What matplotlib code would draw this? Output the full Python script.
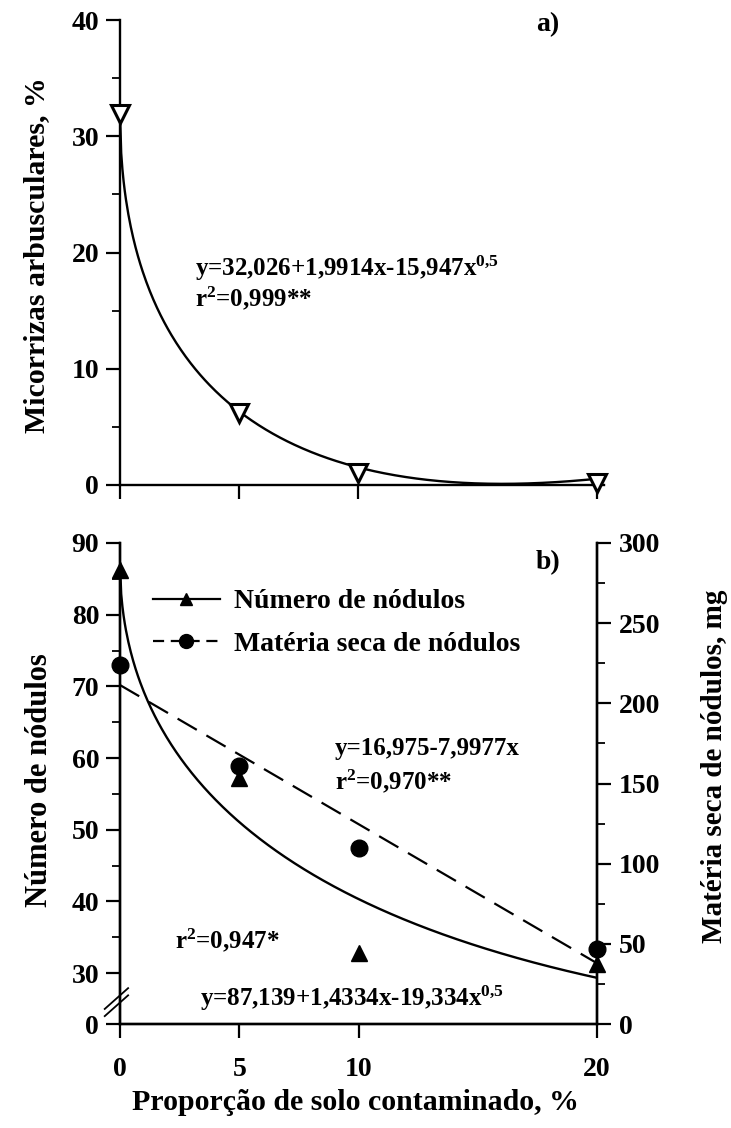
import numpy as np
import matplotlib
matplotlib.use("Agg")
import matplotlib.pyplot as plt
from matplotlib.lines import Line2D
import matplotlib.transforms as mtransforms

plt.rcParams['font.family'] = ['Liberation Serif', 'DejaVu Serif']
plt.rcParams['font.weight'] = 'bold'
plt.rcParams['mathtext.fontset'] = 'custom'
plt.rcParams['mathtext.rm'] = 'Liberation Serif:bold'
plt.rcParams['mathtext.it'] = 'Liberation Serif:bold'
plt.rcParams['mathtext.bf'] = 'Liberation Serif:bold'
plt.rcParams['mathtext.default'] = 'rm'

# proporcao de solo contaminado (%)
doses = [0, 5, 10, 20]

# a) micorrizas arbusculares (%)
micorrizas = [31.9, 6.2, 1.0, 0.2]
coef_mic = [32.026, 1.9914, -15.947]     # y = a + b*x + c*x^0.5

# b) numero de nodulos (eixo esquerdo) e materia seca (eixo direito, mg)
num_nodulos = [86.2, 57.2, 32.8, 31.3]
coef_num = [87.139, 1.4334, -19.334]
mat_seca = [224, 161, 110, 47]

W, H = 731, 1128
fig = plt.figure(figsize=(W / 100, H / 100), dpi=100)


def px_axes(l, t, r, b):
    return fig.add_axes([l / W, 1 - b / H, (r - l) / W, (b - t) / H])


def raiz_fit(c, x):
    return c[0] + c[1] * x + c[2] * np.sqrt(x)


def ftext(x, y, s, **kw):
    # posicao em pixels da figura
    return fig.text(x / W, 1 - y / H, s, **kw)


xs = np.linspace(0, 20, 400)
tick_kw = dict(direction='out', width=1.6, labelsize=20, colors='black')
eq_fs = 18
dash = (0, (10, 5))

# ---------------- a) ----------------
ax1 = px_axes(120, 20, 604, 485)
ax1.set_xlim(0, 20.3)
ax1.set_ylim(0, 40)
ax1.plot(xs, raiz_fit(coef_mic, xs), color='black', lw=1.7, zorder=2)
ax1.plot(doses, micorrizas, ls='none', marker='v', ms=13, mfc='white',
         mec='black', mew=2.2, zorder=3, clip_on=False)
for s in ['top', 'right']:
    ax1.spines[s].set_visible(False)
for s in ['left', 'bottom']:
    ax1.spines[s].set_linewidth(1.7)
ax1.set_xticks(doses)
ax1.set_xticklabels([])
ax1.set_yticks([0, 10, 20, 30, 40])
ax1.set_yticks([5, 15, 25, 35], minor=True)
ax1.tick_params(axis='both', which='major', length=10, pad=5, **tick_kw)
ax1.tick_params(axis='y', which='minor', length=6, width=1.3, direction='out')
ftext(548, 25, 'a)', fontsize=20, ha='center', va='center')
ftext(195, 268, 'y=32,026+1,9914x-15,947x$^{0{,}5}$', fontsize=eq_fs,
      ha='left', va='center')
ftext(195, 298, 'r$^{2}$=0,999**', fontsize=eq_fs, ha='left', va='center')

# ---------------- b) ----------------
y0_fake = 22.9   # posicao do "0" com quebra de eixo
ax2 = px_axes(120, 543, 597, 1024)
ax2.set_xlim(0, 20)
ax2.set_ylim(y0_fake, 90)
ax3 = ax2.twinx()
ax3.set_ylim(0, 300)

ax2.plot(xs, raiz_fit(coef_num, xs), color='black', lw=1.7, zorder=2)
ax2.plot(doses, num_nodulos, ls='none', marker='^', ms=11, color='black',
         zorder=3, clip_on=False)

incl, inter = np.polyfit(doses, mat_seca, 1)
ax3.plot(xs, inter + incl * xs, color='black', lw=1.6, ls=dash, zorder=2)
ax3.plot(doses, mat_seca, ls='none', marker='o', ms=12, color='black',
         zorder=3, clip_on=False)

ax2.spines['top'].set_visible(False)
ax3.spines['top'].set_visible(False)
for a in [ax2, ax3]:
    for s in ['left', 'bottom', 'right']:
        a.spines[s].set_linewidth(1.7)

ax2.set_xticks(doses)
ax2.set_xticklabels([str(d) for d in doses])
ax2.set_yticks([y0_fake, 30, 40, 50, 60, 70, 80, 90])
ax2.set_yticklabels(['0', '30', '40', '50', '60', '70', '80', '90'])
ax2.set_yticks([35, 45, 55, 65, 75, 85], minor=True)
ax2.tick_params(axis='y', which='major', length=10, pad=5, **tick_kw)
ax2.tick_params(axis='x', which='major', length=10, pad=14, **tick_kw)
ax2.tick_params(axis='y', which='minor', length=6, width=1.3, direction='out')

ax3.set_yticks([0, 50, 100, 150, 200, 250, 300])
ax3.set_yticks([25, 75, 125, 175, 225, 275], minor=True)
ax3.tick_params(axis='y', which='major', length=10, pad=6, **tick_kw)
ax3.tick_params(axis='y', which='minor', length=6, width=1.3, direction='out')

# quebra do eixo esquerdo
trans = mtransforms.blended_transform_factory(ax2.transAxes, ax2.transData)
for dy in [0, 1.0]:
    ax2.add_line(Line2D([-0.032, 0.017], [24.0 + dy, 26.9 + dy], color='black',
                        lw=1.3, transform=trans, clip_on=False))

ftext(548, 563, 'b)', fontsize=20, ha='center', va='center')
ftext(335, 748, 'y=16,975-7,9977x', fontsize=eq_fs, ha='left', va='center')
ftext(335, 781, 'r$^{2}$=0,970**', fontsize=eq_fs, ha='left', va='center')
ftext(175, 940, 'r$^{2}$=0,947*', fontsize=eq_fs, ha='left', va='center')
ftext(200, 998, 'y=87,139+1,4334x-19,334x$^{0{,}5}$', fontsize=eq_fs,
      ha='left', va='center')

handles = [Line2D([], [], color='black', lw=1.6, marker='^', ms=9),
           Line2D([], [], color='black', lw=1.6, ls=(0, (5, 3)), marker='o', ms=10)]
ax3.legend(handles, ['Número de nódulos', 'Matéria seca de nódulos'],
           loc='upper left', bbox_to_anchor=(153 / W, 1 - 589 / H),
           bbox_transform=fig.transFigure, frameon=False, fontsize=20,
           handlelength=2.4, handletextpad=0.5, labelspacing=0.6,
           borderpad=0, borderaxespad=0, numpoints=1)

# rotulos dos eixos
ftext(37, 255, 'Micorrizas arbusculares, %', rotation=90, fontsize=21.5,
      ha='center', va='center')
ftext(40, 780, 'Número de nódulos', rotation=90, fontsize=22,
      ha='center', va='center')
ftext(714, 766, 'Matéria seca de nódulos, mg', rotation=90, fontsize=21,
      ha='center', va='center')
ftext(355, 1102, 'Proporção de solo contaminado, %', fontsize=21.5,
      ha='center', va='center')

fig.savefig('out.png', dpi=100)
